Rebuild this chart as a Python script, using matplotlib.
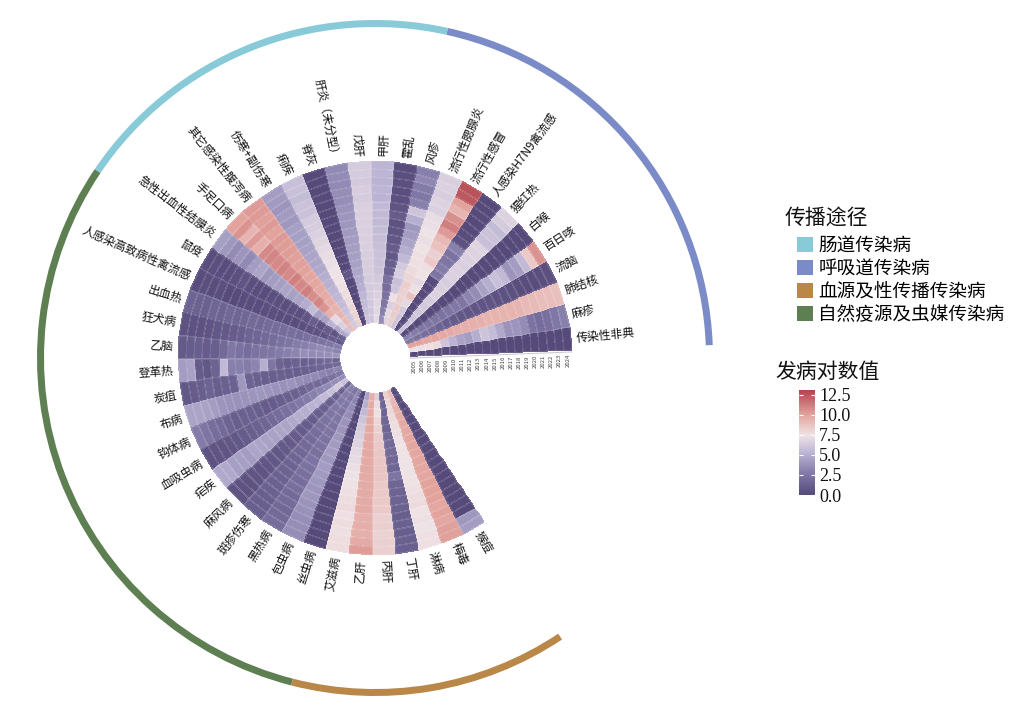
import numpy as np
import matplotlib
matplotlib.use("Agg")
import matplotlib.pyplot as plt
from matplotlib.colors import LinearSegmentedColormap, Normalize
from matplotlib.patches import Patch
from matplotlib.transforms import offset_copy

plt.rcParams['font.family'] = ['Noto Sans CJK SC', 'DejaVu Sans']

years = list(range(2005, 2025))

diseases = ["传染性非典", "麻疹", "肺结核", "流脑", "百日咳", "白喉", "猩红热", "人感染H7N9禽流感",
            "流行性感冒", "流行性腮腺炎", "风疹",
            "霍乱", "甲肝", "戊肝", "肝炎（未分型）", "脊灰", "痢疾", "伤寒+副伤寒", "其它感染性腹泻病",
            "手足口病", "急性出血性结膜炎",
            "鼠疫", "人感染高致病性禽流感", "出血热", "狂犬病", "乙脑", "登革热", "炭疽", "布病", "钩体病",
            "血吸虫病", "疟疾", "麻风病", "斑疹伤寒", "黑热病", "包虫病", "丝虫病",
            "艾滋病", "乙肝", "丙肝", "丁肝", "淋病", "梅毒", "猴痘"]

group_names = ["呼吸道传染病", "肠道传染病", "自然疫源及虫媒传染病", "血源及性传播传染病"]
group_sizes = [11, 10, 16, 7]
group_colors = ["#7a8bc8", "#88cad8", "#5e7f52", "#b98848"]
legend_order = ["肠道传染病", "呼吸道传染病", "血源及性传播传染病", "自然疫源及虫媒传染病"]

# log incidence values, 2005 -> 2024 (inner -> outer)
v_sars = [0, 0, 0, 0, 0, 0, 0, 0, 0, 0, 0, 0, 0, 0, 0, 0, 0, 0, 0, 0]
v_measles = [7.5, 7.3, 7.6, 7.8, 6.0, 5.2, 4.5, 4.2, 5.0, 6.0, 5.6, 4.8, 3.8, 3.9, 3.5, 2.4, 2.0, 2.2, 2.6, 3.0]
v_tb = [10.0, 10.0, 9.9, 9.9, 9.8, 9.7, 9.6, 9.6, 9.5, 9.5, 9.4, 9.4, 9.4, 9.4, 9.3, 9.1, 9.1, 9.0, 9.0, 8.9]
v_mening = [2.5, 2.2, 2.0, 1.8, 1.5, 1.2, 1.0, 0.8, 0.7, 0.7, 0.6, 0.6, 0.5, 0.5, 0.4, 0.2, 0.2, 0.2, 0.3, 0.4]
v_pertussis = [3.0, 2.8, 2.6, 2.5, 2.5, 2.3, 2.5, 2.6, 2.5, 3.2, 3.5, 4.5, 5.0, 5.8, 5.5, 3.8, 4.2, 5.5, 8.5, 10.5]
v_diphtheria = [0, 0, 0, 0, 0, 0, 0, 0, 0, 0, 0, 0, 0, 0, 0, 0, 0, 0, 0, 0]
v_scarlet = [5.8, 5.9, 6.0, 6.1, 6.2, 6.3, 6.6, 6.5, 6.4, 6.6, 6.6, 6.5, 6.6, 6.7, 6.8, 5.8, 5.9, 5.6, 6.3, 6.7]
v_h7n9 = [0, 0, 0, 0, 0, 0, 0, 0, 2.5, 2.8, 2.5, 2.3, 3.0, 0.5, 0.2, 0, 0, 0, 0, 0]
v_flu = [6.0, 6.0, 6.2, 7.0, 8.8, 7.6, 7.0, 7.5, 7.6, 8.5, 8.2, 8.8, 9.2, 10.3, 11.2, 10.6, 9.3, 10.0, 12.4, 12.6]
v_mumps = [8.3, 8.4, 8.5, 8.2, 8.2, 8.3, 8.0, 7.8, 7.6, 7.6, 7.5, 7.3, 7.4, 7.3, 7.2, 6.6, 6.7, 6.4, 6.6, 6.5]
v_rubella = [6.8, 7.0, 6.5, 7.6, 6.0, 5.8, 6.5, 6.2, 5.5, 5.0, 4.6, 4.2, 4.0, 5.0, 6.0, 3.0, 2.6, 2.8, 3.3, 3.0]
v_cholera = [3.5, 3.0, 2.5, 2.3, 2.0, 2.2, 1.5, 1.2, 0.8, 1.0, 0.8, 0.6, 0.5, 1.0, 0.6, 0.4, 0.3, 0.4, 0.3, 0.2]
v_hepa = [7.0, 6.9, 6.8, 6.6, 6.4, 6.2, 6.0, 5.9, 5.9, 5.8, 5.7, 5.6, 5.5, 5.5, 5.5, 5.2, 5.3, 5.2, 5.3, 5.3]
v_hepe = [6.0, 6.1, 6.2, 6.3, 6.3, 6.3, 6.4, 6.4, 6.4, 6.5, 6.5, 6.5, 6.5, 6.5, 6.5, 6.3, 6.4, 6.2, 6.3, 6.3]
v_hepu = [6.0, 5.8, 5.6, 5.4, 5.1, 4.9, 4.7, 4.5, 4.4, 4.3, 4.2, 4.1, 4.0, 3.9, 3.8, 3.6, 3.6, 3.4, 3.5, 3.4]
v_polio = [0, 0, 0, 0, 0, 0, 0.8, 0, 0, 0, 0, 0, 0, 0, 0, 0, 0, 0, 0, 0]
v_dysentery = [8.2, 8.1, 8.0, 7.8, 7.7, 7.6, 7.5, 7.4, 7.3, 7.2, 7.0, 6.8, 6.6, 6.4, 6.3, 5.9, 5.9, 5.6, 5.8, 5.8]
v_typhoid = [6.2, 6.0, 5.8, 5.6, 5.4, 5.3, 5.1, 5.0, 4.8, 4.7, 4.6, 4.5, 4.4, 4.4, 4.4, 4.0, 4.1, 3.9, 4.1, 4.2]
v_diarrhea = [9.0, 9.2, 9.3, 9.4, 9.6, 9.7, 9.8, 9.9, 9.9, 10.0, 10.1, 10.1, 10.2, 10.2, 10.3, 10.0, 10.3, 10.1, 10.3, 10.3]
v_hfmd = [6.0, 6.5, 7.0, 9.5, 10.5, 11.0, 10.7, 11.2, 10.9, 11.2, 10.8, 11.1, 10.8, 11.0, 10.8, 9.5, 10.3, 9.3, 10.5, 10.0]
v_ahc = [4.8, 4.6, 5.2, 4.5, 4.5, 5.6, 4.9, 4.6, 4.4, 4.6, 4.3, 4.2, 4.0, 4.6, 4.2, 3.4, 3.9, 3.5, 4.0, 4.3]
v_plague = [1.2, 0.5, 1.0, 0.5, 1.2, 0.6, 0.3, 0.4, 0.3, 0.4, 0.3, 0.2, 0.2, 0.3, 0.6, 0.4, 0.2, 0.2, 0.3, 0.2]
v_h5n1 = [0.8, 1.0, 0.5, 0.5, 0.5, 0.3, 0.2, 0.2, 0.2, 0.3, 0.3, 0.2, 0.2, 0.2, 0.1, 0.1, 0.3, 0.2, 0.3, 0.2]
v_hfrs = [2.8, 2.6, 2.4, 2.2, 2.2, 2.0, 2.1, 2.0, 2.0, 1.9, 1.7, 1.8, 1.7, 1.6, 1.7, 1.5, 1.6, 1.3, 1.4, 1.5]
v_rabies = [3.2, 3.4, 3.5, 3.3, 3.0, 2.8, 2.5, 2.3, 2.0, 1.8, 1.6, 1.5, 1.2, 1.0, 0.9, 0.8, 0.6, 0.5, 0.5, 0.5]
v_je = [3.8, 3.6, 3.5, 3.4, 3.6, 3.2, 3.0, 2.8, 2.6, 2.5, 2.4, 2.0, 2.3, 2.6, 1.8, 1.2, 1.0, 1.2, 1.1, 0.9]
v_dengue = [1.5, 1.8, 1.6, 1.4, 1.2, 1.4, 1.2, 1.5, 2.5, 5.0, 3.2, 2.8, 3.0, 3.0, 5.5, 1.5, 0.8, 1.0, 4.5, 4.2]
v_anthrax = [1.8, 1.6, 1.5, 1.4, 1.3, 1.2, 1.2, 1.3, 1.2, 1.2, 1.3, 1.5, 4.0, 1.4, 1.3, 1.2, 1.5, 1.2, 1.0, 0.8]
v_brucella = [3.2, 3.0, 3.2, 3.4, 3.5, 3.6, 3.8, 3.7, 3.8, 3.9, 4.0, 3.9, 3.8, 3.7, 3.8, 3.9, 4.2, 4.5, 4.6, 4.6]
v_lepto = [2.5, 2.2, 2.0, 1.8, 1.8, 1.5, 1.3, 1.3, 1.2, 1.0, 1.0, 1.2, 1.4, 1.3, 1.2, 1.5, 1.8, 2.0, 2.5, 2.8]
v_schisto = [3.5, 3.6, 3.4, 3.2, 3.0, 2.8, 2.6, 2.4, 2.2, 2.0, 1.8, 1.6, 1.4, 1.2, 1.0, 0.8, 0.7, 0.6, 0.6, 0.5]
v_malaria = [5.8, 6.2, 5.8, 5.5, 5.2, 5.2, 5.0, 5.0, 4.8, 4.6, 4.6, 4.5, 4.5, 4.6, 4.6, 4.2, 4.4, 4.3, 4.8, 4.8]
v_leprosy = [1.5, 1.4, 1.4, 1.3, 1.3, 1.2, 1.1, 1.1, 1.0, 1.0, 0.9, 0.9, 0.8, 0.8, 0.7, 0.6, 0.6, 0.5, 0.5, 0.5]
v_typhus = [3.0, 2.8, 2.7, 2.6, 2.5, 2.3, 2.2, 2.0, 1.9, 1.8, 1.7, 1.6, 1.5, 1.5, 1.4, 1.3, 1.3, 1.2, 1.2, 1.2]
v_kala = [2.5, 2.5, 2.6, 2.5, 2.6, 2.5, 2.5, 2.4, 2.3, 2.2, 2.4, 2.3, 2.2, 2.0, 2.1, 1.8, 1.9, 1.7, 1.8, 2.0]
v_echino = [3.0, 3.2, 3.4, 3.6, 3.8, 3.9, 4.0, 4.1, 4.2, 4.0, 4.2, 4.1, 4.0, 3.9, 4.0, 3.8, 3.7, 3.6, 3.6, 3.6]
v_filaria = [0, 0, 0, 0, 0, 0, 0, 0, 0, 0, 0, 0, 0, 0, 0, 0, 0, 0, 0, 0]
v_aids = [4.5, 5.0, 5.5, 6.0, 6.3, 6.5, 6.7, 7.0, 7.1, 7.3, 7.4, 7.5, 7.6, 7.7, 7.8, 7.6, 7.7, 7.6, 7.7, 7.7]
v_hepb = [9.6, 9.7, 9.7, 9.8, 9.8, 9.8, 9.8, 9.8, 9.7, 9.7, 9.7, 9.7, 9.7, 9.7, 9.7, 9.5, 9.6, 9.5, 9.7, 10.2]
v_hepc = [6.5, 7.2, 7.6, 8.0, 8.2, 8.4, 8.5, 8.6, 8.6, 8.6, 8.6, 8.5, 8.5, 8.5, 8.5, 8.2, 8.3, 8.1, 8.2, 8.2]
v_hepd = [1.5, 1.6, 1.5, 1.6, 1.6, 1.7, 1.8, 1.8, 1.7, 1.6, 2.5, 1.6, 1.5, 1.5, 1.4, 1.2, 1.3, 1.2, 1.3, 1.3]
v_gonorrhea = [8.2, 8.0, 7.9, 7.8, 7.7, 7.6, 7.5, 7.5, 7.4, 7.4, 7.5, 7.5, 7.6, 7.7, 7.8, 7.5, 7.6, 7.4, 7.6, 7.6]
v_syphilis = [9.0, 9.2, 9.4, 9.6, 9.7, 9.8, 9.9, 9.9, 9.9, 9.9, 9.9, 9.9, 10.0, 10.0, 10.0, 9.9, 10.0, 9.9, 10.1, 10.1]
v_mpox = [0, 0, 0, 0, 0, 0, 0, 0, 0, 0, 0, 0, 0, 0, 0, 0, 0, 0, 4.0, 4.2]

values = np.array([v_sars, v_measles, v_tb, v_mening, v_pertussis, v_diphtheria, v_scarlet, v_h7n9,
                   v_flu, v_mumps, v_rubella,
                   v_cholera, v_hepa, v_hepe, v_hepu, v_polio, v_dysentery, v_typhoid, v_diarrhea,
                   v_hfmd, v_ahc,
                   v_plague, v_h5n1, v_hfrs, v_rabies, v_je, v_dengue, v_anthrax, v_brucella, v_lepto,
                   v_schisto, v_malaria, v_leprosy, v_typhus, v_kala, v_echino, v_filaria,
                   v_aids, v_hepb, v_hepc, v_hepd, v_gonorrhea, v_syphilis, v_mpox])

# ---------------- figure ----------------
W, H = 1023, 714
fig = plt.figure(figsize=(W / 100, H / 100), dpi=100)
cx, cy, R = 375, 358, 345
ax = fig.add_axes([(cx - R) / W, (H - cy - R) / H, 2 * R / W, 2 * R / H], projection='polar')
ax.set_ylim(0, R)
ax.axis('off')

cmap = LinearSegmentedColormap.from_list("inc", [
    (0.0, "#564a7a"), (0.2, "#8078a6"), (0.4, "#bbb4d4"), (0.57, "#efe3e6"),
    (0.76, "#e3a59f"), (1.0, "#b0454f")])
norm = Normalize(vmin=0, vmax=13.1)

n = len(diseases)
theta_start = np.deg2rad(2.2)
dtheta = np.deg2rad(6.85)
r_in, r_out = 35, 197
ny = len(years)
rw = (r_out - r_in) / ny

theta_edges = theta_start + dtheta * np.arange(n + 1)
r_edges = r_in + rw * np.arange(ny + 1)
ax.pcolormesh(theta_edges, r_edges, values.T, cmap=cmap, norm=norm,
              edgecolors=(1, 1, 1, 0.12), linewidth=0.3, shading='flat')

# disease labels
for i, name in enumerate(diseases):
    th = theta_start + dtheta * (i + 0.5)
    deg = np.rad2deg(th)
    if 90 < deg < 270:
        rot, ha = deg - 180, 'right'
    else:
        rot, ha = (deg if deg < 90 else deg - 360), 'left'
    ax.text(th, r_out + 5, name, rotation=rot, rotation_mode='anchor', ha=ha, va='center',
            fontsize=8.5, color='#111111')

# year labels along the starting edge
trans = offset_copy(ax.transData, fig=fig, x=0, y=-3, units='dots')
for j, y in enumerate(years):
    ax.text(theta_start, r_in + rw * (j + 0.5), str(y), transform=trans, rotation=90,
            rotation_mode='anchor', ha='right', va='center', fontsize=4.3, color='#444444')
trans_l = offset_copy(ax.transData, fig=fig, x=0, y=-1.5, units='dots')
ax.plot([theta_start, theta_start], [r_in, r_out], color='#c8c8c8', lw=0.7, transform=trans_l)

# outer group arcs
start = 0
for gname, gsize, gcol in zip(group_names, group_sizes, group_colors):
    t0 = theta_start + dtheta * start
    ax.bar(t0 + dtheta * gsize / 2, 7, width=dtheta * gsize, bottom=331, color=gcol,
           edgecolor='none', align='center')
    start += gsize

# legend
fig.text(785 / W, 1 - 218 / H, '传播途径', fontsize=15, va='center', ha='left', color='#111111')
col_of = dict(zip(group_names, group_colors))
handles = [Patch(facecolor=col_of[g], edgecolor='none', label=g) for g in legend_order]
leg = fig.legend(handles=handles, loc='upper left', bbox_to_anchor=(784 / W, 1 - 224 / H),
                 frameon=False, fontsize=13.4,
                 handlelength=0.85, handleheight=0.85, handletextpad=0.3, labelspacing=0.27,
                 borderpad=0.2)

# colorbar
cax = fig.add_axes([799 / W, (H - 495) / H, 16 / W, 105 / H])
sm = plt.cm.ScalarMappable(norm=norm, cmap=cmap)
cb = fig.colorbar(sm, cax=cax, ticks=[0, 2.5, 5, 7.5, 10, 12.5])
cb.outline.set_visible(False)
cb.ax.yaxis.set_ticks_position('both')
cb.ax.tick_params(direction='in', length=3, width=0.8, color='white', labelsize=13,
                  labelcolor='#111111', pad=3, labelleft=False, labelright=True)
cb.ax.set_yticklabels(['0.0', '2.5', '5.0', '7.5', '10.0', '12.5'])
for t in cb.ax.get_yticklabels():
    t.set_fontfamily('Liberation Serif')
fig.text(775 / W, 1 - 372 / H, '发病对数值', fontsize=15, va='center', ha='left', color='#111111')

fig.savefig('out.png', dpi=100)
